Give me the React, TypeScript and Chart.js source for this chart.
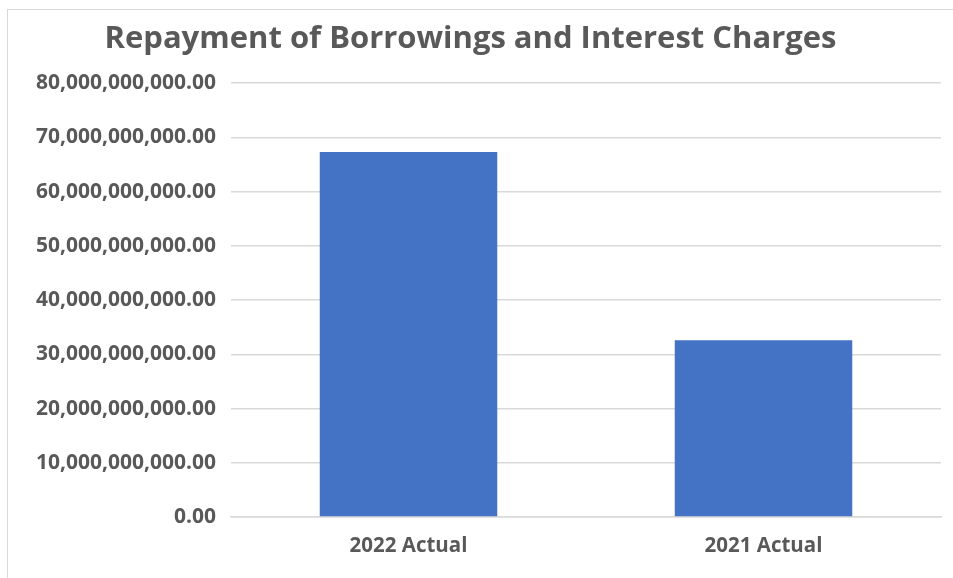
import React, { useEffect, useRef } from "react";
import { Chart, registerables } from "chart.js";

Chart.register(...registerables);

const categories = ["2022 Actual", "2021 Actual"];
const values = [67300000000, 32600000000];
const yMin = 0;
const yMax = 80000000000;
const yStep = 10000000000;
const titleText = "Repayment of Borrowings and Interest Charges";

export default function App() {
  const ref = useRef<HTMLCanvasElement | null>(null);

  useEffect(() => {
    document.body.style.overflow = "hidden";
    const ctx = ref.current!;
    const chart = new Chart(ctx, {
      type: "bar",
      data: {
        labels: categories,
        datasets: [
          {
            data: values,
            backgroundColor: "#4472C4",
            barPercentage: 0.5,
            categoryPercentage: 1,
          },
        ],
      },
      options: {
        animation: false,
        responsive: false,
        maintainAspectRatio: false,
        layout: { padding: { left: 0, right: 12, top: 0, bottom: 0 } },
        plugins: {
          legend: { display: false },
          tooltip: { enabled: false },
          title: {
            display: true,
            text: titleText,
            color: "#595959",
            font: { family: "'Open Sans'", size: 31, weight: "bold" },
            padding: { top: 21, bottom: 25 },
          },
        },
        scales: {
          x: {
            grid: { display: false, drawTicks: false },
            border: { display: true, color: "#d9d9d9", width: 1.5 },
            ticks: {
              color: "#595959",
              font: { family: "'Open Sans'", size: 20.5, weight: "bold" },
              padding: 17,
            },
            afterFit: (scale: any) => {
              scale.height = 61;
            },
          },
          y: {
            min: yMin,
            max: yMax,
            grid: { color: "#d9d9d9", lineWidth: 1.5, drawTicks: false },
            border: { display: false },
            ticks: {
              stepSize: yStep,
              color: "#595959",
              font: { family: "'Open Sans'", size: 21, weight: "bold" },
              padding: 15,
              callback: (v: any) =>
                Number(v).toLocaleString("en-US", {
                  minimumFractionDigits: 2,
                  maximumFractionDigits: 2,
                }),
            },
            afterFit: (scale: any) => {
              scale.width = 231;
            },
          },
        },
      },
    });
    return () => chart.destroy();
  }, []);

  return (
    <div style={{ position: "fixed", left: 0, top: 0, width: 953, height: 578, background: "#fff" }}>
      <div
        style={{
          position: "absolute",
          left: 7,
          top: 9,
          width: 946,
          height: 569,
          borderLeft: "1.5px solid #d9d9d9",
          borderTop: "1.5px solid #d9d9d9",
        }}
      />
      <canvas ref={ref} width={953} height={578} style={{ position: "absolute", left: 0, top: 0 }} />
    </div>
  );
}
